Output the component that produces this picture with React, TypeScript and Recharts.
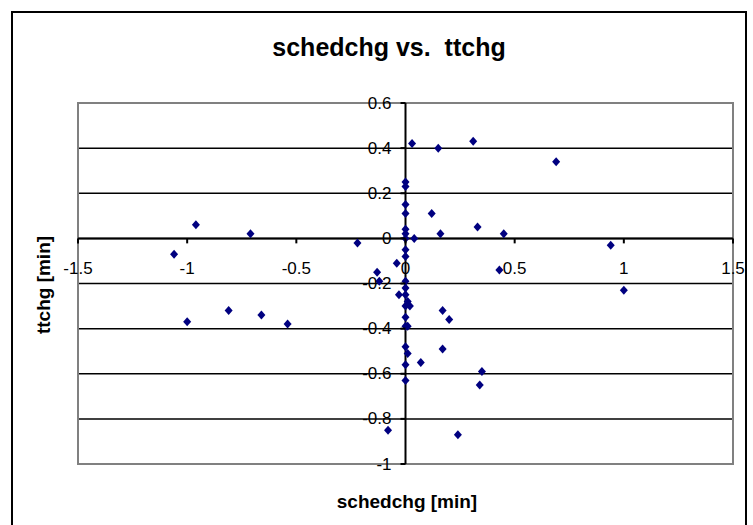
import React from 'react';
import {
  ScatterChart,
  Scatter,
  XAxis,
  YAxis,
  CartesianGrid,
  ReferenceLine,
  ReferenceArea,
} from 'recharts';

const xValues = [
  0.03, 0.15, 0.31, 0.69, 0, 0, 0, 0, 0.12, -0.96, -0.71, 0, 0, 0, 0.04, 0.16, 0.33, 0.45,
  -1.06, -0.22, 0.94, 0, 0, -0.04, 0.43, -0.13, -0.12, 0, 0, -0.03, 0, 0.01, 0.02, 0, 1.0,
  -1.0, -0.81, -0.66, -0.54, 0.17, 0.2, 0, 0, 0.01, 0, 0.01, 0.17, 0.07, 0, 0, 0.35, 0.34,
  -0.08, 0.24,
];
const yValues = [
  0.42, 0.4, 0.43, 0.34, 0.25, 0.23, 0.15, 0.11, 0.11, 0.06, 0.02, 0.04, 0.02, 0, 0, 0.02, 0.05, 0.02,
  -0.07, -0.02, -0.03, -0.05, -0.08, -0.11, -0.14, -0.15, -0.19, -0.19, -0.22, -0.25, -0.25, -0.28, -0.3, -0.3, -0.23,
  -0.37, -0.32, -0.34, -0.38, -0.32, -0.36, -0.35, -0.39, -0.39, -0.48, -0.51, -0.49, -0.55, -0.56, -0.63, -0.59, -0.65,
  -0.85, -0.87,
];
const xTicks = [-1.5, -1, -0.5, 0, 0.5, 1, 1.5];
const yTicks = [-1, -0.8, -0.6, -0.4, -0.2, 0, 0.2, 0.4, 0.6];

const data = xValues.map((x, i) => ({ x, y: yValues[i] }));

const W = 753;
const H = 525;
const M = { top: 103, right: 20, bottom: 60, left: 77 };
const AXIS_SIZE = 1;
const PLOT_L = M.left + AXIS_SIZE;
const PLOT_W = W - PLOT_L - M.right;
const PLOT_H = H - M.top - M.bottom - AXIS_SIZE;
const X_MIN = xTicks[0];
const X_MAX = xTicks[xTicks.length - 1];
const Y_MIN = yTicks[0];
const Y_MAX = yTicks[yTicks.length - 1];
// where the axes cross (value 0 on each)
const ZERO_X = PLOT_L + (PLOT_W * (0 - X_MIN)) / (X_MAX - X_MIN);
const ZERO_Y = M.top + (PLOT_H * (Y_MAX - 0)) / (Y_MAX - Y_MIN);

const FONT = '"Liberation Sans", Arial, sans-serif';

const renderXTick = (props: any) => {
  const { x, payload } = props;
  return (
    <g key={`xt-${payload.value}`}>
      <line x1={x} x2={x} y1={ZERO_Y} y2={ZERO_Y + 5} stroke="#000" strokeWidth={2} />
      <text x={x} y={ZERO_Y + 30} textAnchor="middle" dominantBaseline="central" fontSize={17} fontFamily={FONT} fill="#000">
        {String(payload.value)}
      </text>
    </g>
  );
};

const renderYTick = (props: any) => {
  const { y, payload } = props;
  return (
    <g key={`yt-${payload.value}`}>
      <line x1={ZERO_X - 5} x2={ZERO_X} y1={y} y2={y} stroke="#000" strokeWidth={2} />
      <text x={ZERO_X - 14} y={y} textAnchor="end" dominantBaseline="central" fontSize={17} fontFamily={FONT} fill="#000">
        {String(payload.value)}
      </text>
    </g>
  );
};

const Diamond = (props: any) => {
  const { cx, cy } = props;
  return (
    <polygon
      points={`${cx},${cy - 4.5} ${cx + 4},${cy} ${cx},${cy + 4.5} ${cx - 4},${cy}`}
      fill="#000080"
    />
  );
};

const App: React.FC = () => {
  return (
    <div style={{ position: 'absolute', left: 0, top: 0, width: W, height: H, overflow: 'hidden', background: '#fff' }}>
      <div
        style={{
          position: 'absolute',
          left: 11,
          top: 11,
          width: 736,
          height: 600,
          border: '2px solid #000',
          boxSizing: 'border-box',
        }}
      />
      <div style={{ position: 'absolute', left: 0, top: 0 }}>
        <ScatterChart width={W} height={H} margin={M}>
          <CartesianGrid vertical={false} stroke="#000" strokeWidth={1.5} />
          <XAxis
            type="number"
            dataKey="x"
            domain={[X_MIN, X_MAX]}
            ticks={xTicks}
            interval={0}
            height={AXIS_SIZE}
            axisLine={false}
            tickLine={false}
            tick={renderXTick}
          />
          <YAxis
            type="number"
            dataKey="y"
            domain={[Y_MIN, Y_MAX]}
            ticks={yTicks}
            interval={0}
            width={AXIS_SIZE}
            axisLine={false}
            tickLine={false}
            tick={renderYTick}
          />
          <ReferenceArea x1={X_MIN} x2={X_MAX} y1={Y_MIN} y2={Y_MAX} fill="none" stroke="#808080" strokeWidth={2} />
          <ReferenceLine y={0} stroke="#000" strokeWidth={2} />
          <ReferenceLine x={0} stroke="#000" strokeWidth={2} />
          <Scatter data={data} shape={<Diamond />} isAnimationActive={false} />
        </ScatterChart>
      </div>
      <svg width={W} height={H} style={{ position: 'absolute', left: 0, top: 0, pointerEvents: 'none' }}>
        <text
          x={389}
          y={56}
          textAnchor="middle"
          fontSize={25}
          fontWeight="bold"
          fontFamily={FONT}
          fill="#000"
          style={{ whiteSpace: 'pre' }}
        >
          {'schedchg vs.  ttchg'}
        </text>
        <text x={407} y={508} textAnchor="middle" fontSize={19} fontWeight="bold" fontFamily={FONT} fill="#000">
          schedchg [min]
        </text>
        <text
          x={50}
          y={285}
          transform="rotate(-90 50 285)"
          textAnchor="middle"
          fontSize={19}
          fontWeight="bold"
          fontFamily={FONT}
          fill="#000"
        >
          ttchg [min]
        </text>
      </svg>
    </div>
  );
};

export default App;
